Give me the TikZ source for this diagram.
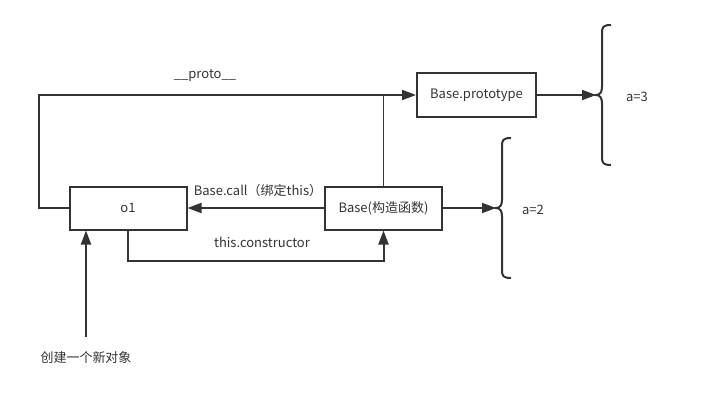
\documentclass[tikz,border=0pt]{standalone}
\usepackage{fontspec}
\setmainfont{Noto Sans CJK SC}
\usetikzlibrary{arrows.meta}
\definecolor{ink}{HTML}{333333}
\begin{document}
\begin{tikzpicture}[x=1pt,y=-1pt]
        % Define styles
        \tikzset{
            box/.style={draw=ink, line width=2pt, minimum width=117pt, minimum height=43pt, inner sep=0pt, text=ink, font=\fontsize{13}{15}\selectfont},
            conn/.style={draw=ink, line width=2pt, -{Triangle[length=14pt,width=10pt]}},
            plain/.style={draw=ink, line width=1.7pt},
            label/.style={text=ink, font=\fontsize{13}{15}\selectfont, inner sep=0pt}
        }
        \useasboundingbox (0,0) rectangle (723,402);
        % Boxes
        \node[box] (o1) at (128,208) {o1};
        \node[box] (base) at (383.5,208) {Base(构造函数)};
        \node[box, minimum width=119pt, minimum height=44pt] (proto) at (476.5,95) {Base.prototype};
        % __proto__ link
        \draw[conn] (o1.west) -- ++(-30,0) |- (proto.west);
        \node[label] (protolbl) at (205,75) {\_\_proto\_\_};
        \draw[plain] (base.north) -- (base.north |- proto.west);
        % Base.call and constructor
        \draw[conn] (base.west) -- (o1.east);
        \node[label] (calllbl) at (258,191) {Base.call（绑定this）};
        \draw[conn] (o1.south) -- ++(0,30) -| (base.south);
        \node[label] (ctorlbl) at (262,242) {this.constructor};
        % New object
        \coordinate (start) at (86,337);
        \draw[conn] (start) -- (start |- o1.south);
        \node[label] (newlbl) at (86,358) {创建一个新对象};
        % Braces with values
        \coordinate (tip3) at (596,95);
        \coordinate (tip2) at (496,208);
        \draw[conn] (proto.east) -- (tip3);
        \draw[conn] (base.east) -- (tip2);
        \foreach \bx/\by in {602/95, 502/208}
            \draw[plain, line width=2pt] (\bx+9,\by-70) .. controls (\bx+1,\by-70) and (\bx,\by-68) .. (\bx,\by-62)
                -- (\bx,\by-8) .. controls (\bx,\by-3) and (\bx-2,\by) .. (\bx-6,\by)
                .. controls (\bx-2,\by) and (\bx,\by+3) .. (\bx,\by+8)
                -- (\bx,\by+62) .. controls (\bx,\by+68) and (\bx+1,\by+70) .. (\bx+9,\by+70);
        \node[label] (val3) at (637,97) {a=3};
        \node[label] (val2) at (533,210) {a=2};
    \end{tikzpicture}
\end{document}
